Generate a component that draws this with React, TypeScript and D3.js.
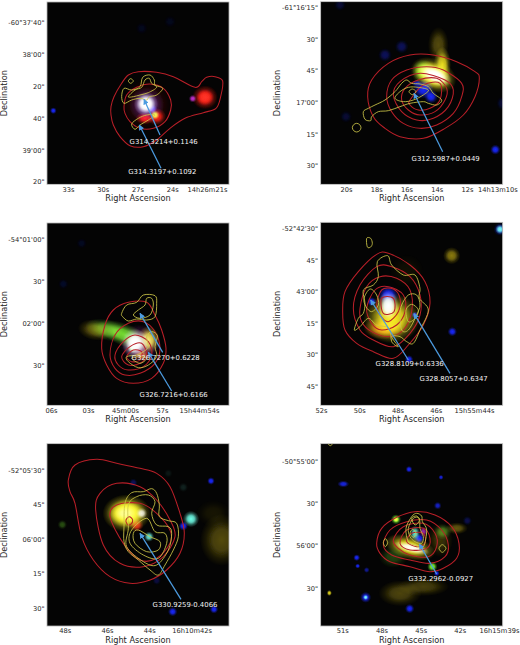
import { useEffect, useRef } from "react";
import { axisBottom, axisLeft, curveCatmullRomClosed, line, scaleLinear, select } from "d3";

type Pt = [number, number];
// x, y, rx, ry, colour, opacity, rotation
type Blob = [number, number, number, number, string, number, number?];
type Note = { text: string; x: number; y: number; from: Pt; to: Pt };

// sky grid: one tile of the figure is 780 x 645 grid units
const GRID_W = 780;
const GRID_H = 645;

const glowColors: Record<string, string> = {
  white: "#ffffff",
  red: "#ff1c14",
  blue: "#1a28ff",
  green: "#7cff30",
  yellow: "#fff020",
  cyan: "#70ffe8",
  purple: "#c030d0",
  orange: "#ff8a10",
  olive: "#8a7a10",
};

// panel 1
const ra1 = [33, 30, 27, 24, 21];
const raLabels1 = ["33s", "30s", "27s", "24s", "14h26m21s"];
const dec1 = [0, 20, 40, 60, 80, 100];
const decLabels1 = [`-60°37'40"`, `38'00"`, `20"`, `40"`, `39'00"`, `20"`];
const red1: Pt[][] = [
  [[333, 320], [342, 290], [365, 250], [385, 225], [415, 215], [470, 217], [520, 230], [585, 262], [605, 245], [620, 232], [645, 230], [668, 243], [662, 290], [648, 325], [610, 338], [555, 355], [510, 385], [470, 420], [430, 440], [390, 437], [360, 410], [340, 375], [333, 345]],
  [[372, 320], [380, 285], [410, 262], [450, 252], [490, 265], [512, 300], [512, 330], [495, 365], [460, 385], [420, 385], [390, 365], [375, 340]],
];
const yellow1: Pt[][] = [
  [[365, 290], [372, 265], [395, 270], [420, 260], [428, 232], [450, 225], [463, 240], [465, 255], [488, 265], [470, 285], [448, 290], [440, 300], [420, 295], [395, 300], [372, 310]],
  [[385, 243], [392, 236], [400, 243], [392, 250]],
  [[385, 290], [405, 270], [425, 262], [435, 240], [448, 235], [455, 250], [470, 262], [445, 278], [420, 285], [400, 290]],
  [[395, 372], [415, 355], [440, 345], [465, 345], [445, 360], [420, 375], [405, 388]],
];
const blobs1: Blob[] = [
  [440, 315, 58, 58, "red", 0.28],
  [440, 315, 40, 40, "blue", 0.55],
  [438, 312, 28, 28, "white", 1],
  [438, 312, 22, 22, "white", 1],
  [438, 312, 16, 16, "white", 1],
  [457, 327, 11, 11, "blue", 1],
  [470, 350, 22, 20, "red", 1],
  [435, 355, 22, 14, "red", 1],
  [465, 345, 11, 11, "green", 1],
  [615, 292, 30, 28, "red", 1],
  [615, 292, 20, 18, "red", 1],
  [578, 296, 9, 9, "purple", 1],
  [160, 332, 8, 8, "blue", 1],
  [425, 85, 14, 14, "blue", 0.1],
  [510, 65, 14, 14, "blue", 0.1],
];
const notes1: Note[] = [
  { text: "G314.3214+0.1146", x: 491, y: 425, from: [480, 405], to: [432, 298] },
  { text: "G314.3197+0.1092", x: 487, y: 515, from: [483, 505], to: [418, 375] },
];

// panel 2
const ra2 = [20, 18, 16, 14, 12, 10];
const raLabels2 = ["20s", "18s", "16s", "14s", "12s", "14h13m10s"];
const dec2 = [0, 15, 30, 45, 60, 75];
const decLabels2 = [`-61°16'15"`, `30"`, `45"`, `17'00"`, `15"`, `30"`];
const red2: Pt[][] = [
  [[323, 290], [335, 240], [385, 190], [450, 165], [520, 165], [590, 185], [645, 215], [658, 235], [645, 290], [610, 345], [555, 385], [490, 415], [420, 410], [375, 385], [340, 350]],
  [[380, 290], [395, 240], [440, 210], [500, 200], [550, 210], [605, 250], [605, 290], [580, 340], [530, 375], [480, 385], [430, 370], [395, 335]],
  [[400, 285], [420, 245], [480, 220], [555, 240], [580, 270], [565, 320], [520, 355], [470, 360], [425, 335]],
  [[425, 300], [435, 265], [475, 240], [530, 235], [560, 265], [555, 300], [525, 335], [480, 345], [445, 330]],
  [[450, 300], [490, 255], [540, 250], [540, 300], [510, 325], [475, 330], [450, 315]],
];
const yellow2: Pt[][] = [
  [[277, 383], [281, 374], [290, 370], [299, 374], [303, 383], [299, 392], [290, 396], [281, 392]],
  [[310, 335], [325, 325], [345, 315], [375, 300], [405, 275], [425, 250], [440, 240], [455, 250], [480, 252], [505, 260], [520, 280], [545, 300], [530, 315], [505, 310], [490, 305], [450, 310], [420, 320], [385, 332], [355, 335], [335, 350], [332, 362], [315, 358]],
  [[405, 295], [420, 275], [445, 262], [475, 262], [505, 270], [490, 285], [460, 300], [430, 305]],
  [[447, 275], [457, 267], [468, 275], [457, 284]],
];
const blobs2: Blob[] = [
  [535, 135, 24, 42, "olive", 0.6],
  [547, 195, 20, 42, "yellow", 0.9],
  [490, 212, 26, 26, "green", 1],
  [520, 225, 56, 38, "yellow", 1, 25],
  [520, 225, 46, 30, "yellow", 1, 25],
  [525, 226, 40, 22, "white", 1, 25],
  [525, 226, 30, 14, "white", 1, 25],
  [490, 268, 24, 22, "blue", 1],
  [513, 290, 16, 16, "blue", 1],
  [470, 250, 12, 8, "blue", 0.8],
  [425, 140, 16, 16, "blue", 0.35],
  [375, 165, 16, 16, "blue", 0.35],
  [258, 350, 14, 14, "blue", 0.2],
  [706, 449, 12, 12, "blue", 1],
  [240, 15, 14, 14, "blue", 0.2],
  [725, 310, 12, 16, "blue", 0.2],
];
const notes2: Note[] = [{ text: "G312.5987+0.0449", x: 557, y: 475, from: [548, 455], to: [462, 280] }];

// panel 3
const ra3 = [6, 3, 0, -3, -6];
const raLabels3 = ["06s", "03s", "45m00s", "57s", "15h44m54s"];
const dec3 = [0, 30, 60, 90];
const decLabels3 = [`-54°01'00"`, `30"`, `02'00"`, `30"`];
const red3: Pt[][] = [
  [[305, 400], [315, 330], [340, 285], [385, 262], [440, 262], [465, 300], [485, 345], [498, 400], [490, 445], [455, 490], [400, 505], [350, 490], [320, 450]],
  [[330, 420], [345, 360], [385, 325], [430, 320], [465, 350], [480, 400], [465, 445], [420, 475], [375, 480], [345, 460]],
  [[345, 420], [370, 380], [405, 360], [445, 380], [455, 420], [430, 455], [385, 465], [355, 450]],
  [[365, 425], [390, 395], [425, 385], [440, 420], [420, 445], [385, 450]],
  [[380, 425], [400, 405], [425, 410], [420, 435], [395, 440]],
];
const yellow3: Pt[][] = [
  [[365, 295], [380, 270], [410, 262], [430, 240], [465, 242], [470, 265], [465, 305], [440, 315], [410, 312], [385, 318], [368, 305]],
  [[400, 300], [415, 285], [435, 270], [440, 250], [455, 250], [460, 270], [450, 300], [420, 310]],
  [[440, 365], [455, 350], [472, 362], [465, 395], [470, 425], [445, 450], [415, 458], [385, 440], [380, 425], [410, 420], [430, 410], [445, 395]],
  [[395, 430], [415, 425], [440, 430], [420, 445]],
];
const blobs3: Blob[] = [
  [285, 345, 40, 24, "olive", 0.7, 10],
  [320, 345, 50, 24, "green", 0.55, 15],
  [375, 360, 68, 26, "green", 0.85, 22],
  [420, 385, 48, 44, "purple", 0.6],
  [405, 385, 30, 34, "white", 1],
  [405, 385, 20, 24, "white", 1],
  [445, 375, 26, 32, "yellow", 0.95],
  [398, 400, 11, 11, "green", 1],
  [425, 420, 18, 14, "orange", 0.8],
  [190, 207, 12, 12, "blue", 0.15],
  [245, 85, 12, 12, "blue", 0.12],
];
const notes3: Note[] = [
  { text: "G326.7270+0.6228", x: 497, y: 427, from: [488, 412], to: [420, 295] },
  { text: "G326.7216+0.6166", x: 521, y: 540, from: [515, 528], to: [445, 412] },
];

// panel 4
const ra4 = [52, 50, 48, 46, 44];
const raLabels4 = ["52s", "50s", "48s", "46s", "15h55m44s"];
const dec4 = [0, 15, 30, 45, 60, 75];
const decLabels4 = [`-52°42'30"`, `45"`, `43'00"`, `15"`, `30"`, `45"`];
const red4: Pt[][] = [
  [[248, 290], [255, 230], [295, 170], [350, 118], [385, 115], [450, 150], [495, 200], [510, 265], [490, 330], [445, 390], [400, 430], [340, 410], [290, 385], [255, 345]],
  [[280, 280], [300, 210], [350, 155], [395, 155], [450, 185], [480, 240], [480, 300], [450, 355], [400, 395], [340, 375], [300, 345]],
  [[300, 280], [320, 215], [360, 185], [410, 190], [450, 225], [455, 290], [430, 345], [385, 365], [335, 350], [305, 320]],
  [[320, 280], [345, 225], [385, 215], [430, 240], [435, 290], [410, 330], [365, 345], [335, 325]],
  [[350, 270], [365, 225], [400, 222], [420, 250], [415, 290], [385, 320], [360, 300]],
  [[365, 250], [400, 250], [402, 290], [370, 295]],
];
const yellow4: Pt[][] = [
  [[283, 345], [295, 310], [310, 295], [315, 265], [310, 225], [340, 210], [355, 185], [352, 140], [383, 122], [395, 150], [430, 180], [465, 180], [480, 220], [478, 250], [505, 285], [480, 345], [460, 385], [440, 380], [420, 365], [395, 365], [415, 395], [395, 380], [388, 340], [350, 330], [325, 310], [300, 335]],
  [[312, 250], [330, 222], [350, 240], [355, 270], [335, 290], [318, 275]],
  [[425, 270], [445, 240], [470, 240], [480, 270], [470, 300], [445, 345], [425, 345], [420, 300]],
  [[438, 285], [455, 268], [475, 285], [465, 310], [445, 320]],
  [[320, 70], [332, 70], [337, 85], [332, 96], [322, 96]],
];
const blobs4: Blob[] = [
  [720, 43, 11, 11, "cyan", 1],
  [720, 43, 15, 15, "blue", 0.7],
  [575, 122, 20, 20, "olive", 1],
  [440, 170, 40, 40, "olive", 0.1],
  [395, 310, 66, 58, "yellow", 1],
  [375, 340, 50, 26, "orange", 1],
  [385, 240, 24, 22, "blue", 1],
  [385, 272, 24, 34, "white", 1],
  [385, 275, 16, 24, "cyan", 0.8],
  [577, 350, 11, 11, "blue", 1],
  [447, 433, 10, 10, "blue", 1],
  [335, 260, 11, 11, "blue", 1],
  [465, 300, 8, 8, "blue", 1],
];
const notes4: Note[] = [
  { text: "G328.8109+0.6336", x: 449, y: 447, from: [445, 435], to: [332, 255] },
  { text: "G328.8057+0.6347", x: 581, y: 490, from: [570, 475], to: [462, 296] },
];

// panel 5
const ra5 = [48, 46, 44, 42];
const raLabels5 = ["48s", "46s", "44s", "16h10m42s"];
const dec5 = [0, 15, 30, 45, 60];
const decLabels5 = [`-52°05'30"`, `45"`, `06'00"`, `15"`, `30"`];
const red5: Pt[][] = [
  [[205, 150], [225, 105], [290, 88], [350, 100], [420, 115], [470, 130], [510, 170], [540, 250], [553, 310], [540, 370], [500, 420], [450, 450], [390, 460], [330, 440], [280, 390], [245, 320], [225, 220], [210, 185]],
  [[287, 240], [300, 190], [350, 160], [420, 170], [470, 210], [510, 270], [525, 320], [490, 380], [430, 410], [360, 400], [310, 345]],
  [[330, 260], [350, 225], [420, 220], [470, 250], [510, 300], [510, 340], [470, 385], [420, 390], [370, 340]],
  [[378, 270], [388, 260], [398, 270], [392, 283], [382, 283]],
];
const yellow5: Pt[][] = [
  [[372, 290], [375, 220], [395, 188], [430, 185], [455, 176], [470, 190], [478, 225], [478, 260], [505, 272], [530, 280], [535, 320], [520, 360], [495, 405], [475, 435], [450, 420], [415, 390], [385, 365], [372, 335]],
  [[385, 295], [380, 350], [430, 395], [470, 405], [505, 360], [515, 310], [505, 290], [470, 285], [455, 250], [465, 215], [445, 195], [410, 200], [385, 225]],
  [[395, 300], [390, 340], [430, 375], [475, 385], [500, 340], [495, 310], [465, 305], [440, 265]],
  [[400, 310], [405, 340], [440, 365], [475, 360], [480, 335], [450, 320], [415, 300]],
];
const blobs5: Blob[] = [
  [665, 330, 50, 60, "olive", 0.6],
  [640, 250, 40, 30, "olive", 0.15],
  [380, 250, 56, 44, "yellow", 1],
  [380, 250, 46, 34, "yellow", 1],
  [380, 250, 38, 26, "yellow", 1],
  [375, 250, 24, 16, "white", 0.4],
  [425, 250, 13, 13, "white", 0.85],
  [410, 285, 16, 16, "red", 0.9],
  [447, 320, 12, 12, "cyan", 0.9],
  [573, 267, 19, 19, "cyan", 1],
  [550, 288, 11, 11, "blue", 1],
  [633, 153, 9, 9, "blue", 1],
  [518, 545, 11, 11, "blue", 1],
  [642, 538, 10, 10, "blue", 1],
  [187, 284, 11, 11, "green", 0.3],
  [400, 158, 10, 10, "blue", 0.35],
  [550, 172, 11, 11, "cyan", 0.12],
  [505, 130, 10, 10, "cyan", 0.08],
  [470, 452, 10, 10, "blue", 0.25],
];
const notes5: Note[] = [{ text: "G330.9259-0.4066", x: 555, y: 525, from: [543, 508], to: [420, 310] }];

// panel 6
const ra6 = [51, 48, 45, 42, 39];
const raLabels6 = ["51s", "48s", "45s", "42s", "16h15m39s"];
const dec6 = [0, 30, 60, 90];
const decLabels6 = [`-50°55'00"`, `30"`, `56'00"`, `30"`];
const red6: Pt[][] = [
  [[350, 340], [365, 295], [410, 262], [465, 245], [525, 255], [575, 290], [597, 340], [590, 385], [550, 415], [510, 425], [450, 410], [390, 395], [360, 370]],
  [[370, 345], [390, 300], [440, 275], [500, 270], [545, 300], [565, 345], [555, 380], [510, 400], [450, 390], [395, 375]],
  [[400, 330], [430, 290], [490, 280], [525, 310], [530, 350], [505, 380], [450, 375], [415, 355]],
  [[420, 340], [440, 300], [490, 295], [510, 325], [500, 355], [450, 360]],
  [[440, 335], [455, 310], [490, 310], [495, 340], [470, 350]],
];
const yellow6: Pt[][] = [
  [[438, 295], [455, 260], [470, 250], [485, 258], [487, 275], [500, 300], [490, 350], [465, 345], [445, 335]],
  [[445, 295], [460, 265], [478, 265], [480, 295], [490, 320], [485, 340], [465, 335], [450, 320]],
  [[450, 310], [458, 298], [468, 310], [460, 322]],
  [[455, 265], [470, 258], [478, 272], [465, 285]],
  [[370, 338], [376, 326], [383, 338], [376, 350]],
  [[537, 355], [547, 344], [558, 355], [547, 367]],
  [[204, 40], [211, 33], [218, 40], [211, 47]],
];
const blobs6: Blob[] = [
  [420, 490, 50, 30, "olive", 0.55],
  [490, 470, 60, 22, "olive", 0.5],
  [590, 295, 26, 14, "olive", 0.7],
  [540, 330, 30, 40, "olive", 0.4],
  [400, 380, 34, 26, "green", 0.25],
  [548, 305, 20, 18, "green", 0.45],
  [450, 352, 60, 28, "yellow", 1, 15],
  [455, 354, 42, 12, "white", 1, 15],
  [478, 325, 12, 12, "blue", 1],
  [465, 310, 12, 18, "cyan", 0.9],
  [490, 305, 10, 12, "purple", 0.8],
  [408, 268, 12, 12, "green", 1],
  [408, 268, 7, 7, "yellow", 1],
  [517, 410, 12, 12, "green", 1],
  [447, 118, 8, 8, "blue", 1],
  [543, 142, 6, 6, "blue", 0.9],
  [250, 162, 14, 8, "blue", 0.9],
  [533, 227, 9, 9, "blue", 0.8],
  [622, 272, 11, 11, "blue", 0.3],
  [290, 383, 8, 8, "blue", 1],
  [293, 408, 6, 6, "blue", 1],
  [320, 420, 7, 7, "blue", 0.6],
  [317, 502, 13, 13, "blue", 1],
  [317, 502, 6, 6, "cyan", 1],
  [449, 536, 11, 11, "blue", 1],
  [530, 430, 7, 7, "blue", 1],
  [208, 489, 6, 7, "yellow", 0.9],
];
const notes6: Note[] = [{ text: "G332.2962-0.0927", x: 542, y: 445, from: [530, 432], to: [478, 342] }];

const ra = [ra1, ra2, ra3, ra4, ra5, ra6];
const raLabels = [raLabels1, raLabels2, raLabels3, raLabels4, raLabels5, raLabels6];
const dec = [dec1, dec2, dec3, dec4, dec5, dec6];
const decLabels = [decLabels1, decLabels2, decLabels3, decLabels4, decLabels5, decLabels6];
const reds = [red1, red2, red3, red4, red5, red6];
const yellows = [yellow1, yellow2, yellow3, yellow4, yellow5, yellow6];
const blobs = [blobs1, blobs2, blobs3, blobs4, blobs5, blobs6];
const notes = [notes1, notes2, notes3, notes4, notes5, notes6];

// layout in grid units: image frame and where the first/last ticks sit
const frames = [
  { left: 141, top: 6, bottom: 553, ra: [204, 621], dec: [68, 545] },
  { left: 182, top: 5, bottom: 553, ra: [258, 712], dec: [22, 497] },
  { left: 141, top: 24, bottom: 571, ra: [153, 597], dec: [73, 451] },
  { left: 182, top: 22, bottom: 571, ra: [183, 642], dec: [40, 514] },
  { left: 141, top: 41, bottom: 588, ra: [194, 575], dec: [121, 535] },
  { left: 182, top: 41, bottom: 588, ra: [247, 717], dec: [94, 474] },
];
const FRAME_W = 546;
const TILE_W = 260;
const TILE_H = 215;

const x = scaleLinear([0, GRID_W], [0, TILE_W]);
const y = scaleLinear([0, GRID_H], [0, TILE_H]);
const contour = line<Pt>()
  .x((d) => x(d[0]))
  .y((d) => y(d[1]))
  .curve(curveCatmullRomClosed.alpha(0));

const FONT = "'DejaVu Sans', sans-serif";
const RED = "#b81f28";
const YELLOW = "#cdc648";
const ARROW = "#4c9be0";
const GLOW_SCALE = 1.3;

const Panel = ({ i }: { i: number }) => {
  const axes = useRef<SVGGElement>(null);
  const f = frames[i];
  const col = i % 2;
  const row = Math.floor(i / 2);

  // 坐标轴用d3画，字体统一在这里设置
  useEffect(() => {
    if (!axes.current) return;
    const g = select(axes.current);
    g.selectAll("*").remove();
    const raScale = scaleLinear([ra[i][0], ra[i][ra[i].length - 1]], f.ra.map((v) => x(v)));
    const decScale = scaleLinear([dec[i][0], dec[i][dec[i].length - 1]], f.dec.map((v) => y(v)));
    const bottom = g
      .append("g")
      .attr("transform", `translate(0,${y(f.bottom)})`)
      .call(
        axisBottom(raScale)
          .tickValues(ra[i])
          .tickSize(0)
          .tickPadding(2.5)
          .tickFormat((_, k) => raLabels[i][k])
      );
    const left = g
      .append("g")
      .attr("transform", `translate(${x(f.left)},0)`)
      .call(
        axisLeft(decScale)
          .tickValues(dec[i])
          .tickSize(0)
          .tickPadding(2.5)
          .tickFormat((_, k) => decLabels[i][k])
      );
    [bottom, left].forEach((a) => {
      a.select(".domain").remove();
      a.selectAll("text").attr("font-family", FONT).attr("font-size", 6.7).attr("fill", "#262626");
    });
  }, [i]);

  const w = x(FRAME_W);
  const h = y(f.bottom - f.top);
  const midX = x(f.left + FRAME_W / 2);
  const midY = y((f.top + f.bottom) / 2);

  return (
    <g transform={`translate(${col * TILE_W},${row * TILE_H})`}>
      <clipPath id={`clip-${i}`}>
        <rect x={x(f.left)} y={y(f.top)} width={w} height={h} />
      </clipPath>
      <g clipPath={`url(#clip-${i})`}>
        <rect x={x(f.left)} y={y(f.top)} width={w} height={h} fill="#040404" />
        <g filter="url(#soft)">
          {blobs[i].map((b, k) => (
            <ellipse
              key={k}
              cx={x(b[0])}
              cy={y(b[1])}
              rx={x(b[2] * GLOW_SCALE)}
              ry={y(b[3] * GLOW_SCALE)}
              fill={`url(#glow-${b[4]})`}
              opacity={b[5]}
              transform={b[6] ? `rotate(${b[6]} ${x(b[0])} ${y(b[1])})` : undefined}
              style={{ mixBlendMode: "screen" }}
            />
          ))}
        </g>
        {reds[i].map((c, k) => (
          <path key={k} d={contour(c) ?? ""} fill="none" stroke={RED} strokeWidth={1.05} />
        ))}
        {yellows[i].map((c, k) => (
          <path key={k} d={contour(c) ?? ""} fill="none" stroke={YELLOW} strokeWidth={0.85} />
        ))}
        {notes[i].map((n, k) => (
          <line
            key={k}
            x1={x(n.from[0])}
            y1={y(n.from[1])}
            x2={x(n.to[0])}
            y2={y(n.to[1])}
            stroke={ARROW}
            strokeWidth={1.25}
            markerEnd="url(#head)"
          />
        ))}
        {notes[i].map((n, k) => (
          <text key={k} x={x(n.x)} y={y(n.y) + 2.4} textAnchor="middle" fontSize={6.9} fontFamily={FONT} fill="#f4f4f4">
            {n.text}
          </text>
        ))}
      </g>
      <rect x={x(f.left)} y={y(f.top)} width={w} height={h} fill="none" stroke="#b4b4b4" strokeWidth={0.8} />
      <g ref={axes} />
      <text x={midX} y={y(f.bottom) + 17} textAnchor="middle" fontSize={8.2} fontFamily={FONT} fill="#262626">
        Right Ascension
      </text>
      <text
        transform={`translate(${x(f.left) - 40.5},${midY}) rotate(-90)`}
        textAnchor="middle"
        fontSize={8.2}
        fontFamily={FONT}
        fill="#262626"
      >
        Declination
      </text>
    </g>
  );
};

const App = () => (
  <svg width={520} height={645} style={{ position: "absolute", left: 0, top: 0, background: "#fff" }}>
    <defs>
      {Object.keys(glowColors).map((name) => (
        <radialGradient key={name} id={`glow-${name}`}>
          <stop offset="0" stopColor={glowColors[name]} stopOpacity={1} />
          <stop offset="0.4" stopColor={glowColors[name]} stopOpacity={0.82} />
          <stop offset="0.72" stopColor={glowColors[name]} stopOpacity={0.28} />
          <stop offset="1" stopColor={glowColors[name]} stopOpacity={0} />
        </radialGradient>
      ))}
      <filter id="soft" x="-10%" y="-10%" width="120%" height="120%">
        <feGaussianBlur stdDeviation="0.5" />
      </filter>
      <marker id="head" viewBox="0 0 10 10" refX="9" refY="5" markerWidth="4.5" markerHeight="4.5" orient="auto">
        <path d="M0,0 L10,5 L0,10 z" fill={ARROW} />
      </marker>
    </defs>
    {frames.map((_, i) => (
      <Panel key={i} i={i} />
    ))}
  </svg>
);

export default App;
